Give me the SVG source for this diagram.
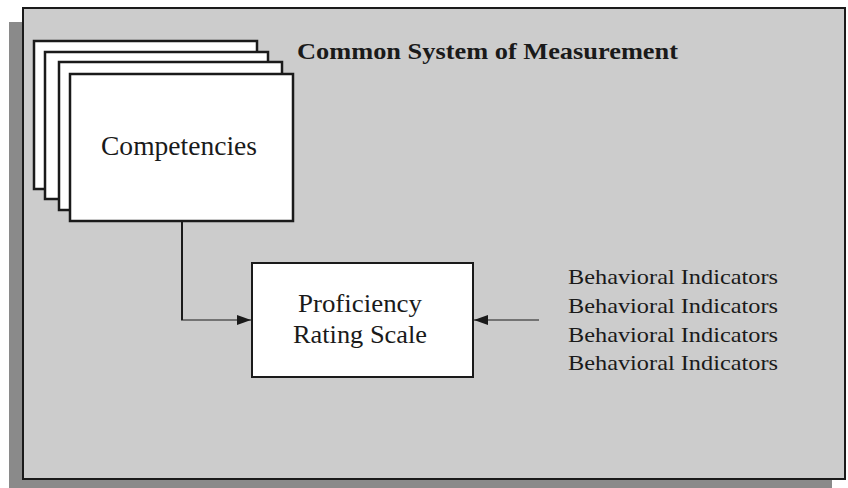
<svg xmlns="http://www.w3.org/2000/svg" width="848" height="488" viewBox="0 0 848 488">
<defs>
<style>
.txt{font-family:"Liberation Serif","Times New Roman",serif;fill:#1a1a1a}
.card{fill:#ffffff;stroke:#1a1a1a;stroke-width:2.5}
.conn{fill:none;stroke:#1a1a1a;stroke-width:1.2}
.conn.thick{stroke-width:2}
</style>
<marker id="arr" markerWidth="14" markerHeight="10" refX="14" refY="5" orient="auto" markerUnits="userSpaceOnUse">
<path d="M0,0 L14,5 L0,10 Z" fill="#1a1a1a"/>
</marker>
</defs>
<rect x="0" y="0" width="848" height="488" fill="#ffffff"/>
<g id="frame">
<rect x="9" y="22" width="823" height="470" fill="#8a8a8a"/>
<rect x="23" y="8" width="822" height="471" fill="#cccccc" stroke="#1a1a1a" stroke-width="2"/>
<text class="txt" x="297" y="59" font-size="23" font-weight="bold" textLength="381" lengthAdjust="spacingAndGlyphs">Common System of Measurement</text>
</g>
<g id="competencies">
<rect class="card" x="34" y="41" width="223" height="148"/>
<rect class="card" x="45" y="52" width="223" height="147"/>
<rect class="card" x="59" y="62" width="223" height="148"/>
<rect class="card" x="70" y="74" width="223" height="147"/>
<text class="txt" x="101" y="155" font-size="28" textLength="156" lengthAdjust="spacingAndGlyphs">Competencies</text>
</g>
<g id="proficiency">
<rect x="252" y="263" width="221" height="114" fill="#ffffff" stroke="#1a1a1a" stroke-width="2"/>
<text class="txt" x="298" y="312" font-size="25" textLength="124" lengthAdjust="spacingAndGlyphs">Proficiency</text>
<text class="txt" x="293" y="343" font-size="25" textLength="134" lengthAdjust="spacingAndGlyphs">Rating Scale</text>
</g>
<g id="indicators">
<text class="txt" x="568" y="284" font-size="22" textLength="210" lengthAdjust="spacingAndGlyphs">Behavioral Indicators</text>
<text class="txt" x="568" y="313" font-size="22" textLength="210" lengthAdjust="spacingAndGlyphs">Behavioral Indicators</text>
<text class="txt" x="568" y="342" font-size="22" textLength="210" lengthAdjust="spacingAndGlyphs">Behavioral Indicators</text>
<text class="txt" x="568" y="370" font-size="22" textLength="210" lengthAdjust="spacingAndGlyphs">Behavioral Indicators</text>
</g>
<g id="connectors">
<path class="conn thick" d="M182,221 L182,320"/>
<path class="conn" d="M181,320 L251,320" marker-end="url(#arr)"/>
<path class="conn" d="M539,320 L474,320" marker-end="url(#arr)"/>
</g>
</svg>
